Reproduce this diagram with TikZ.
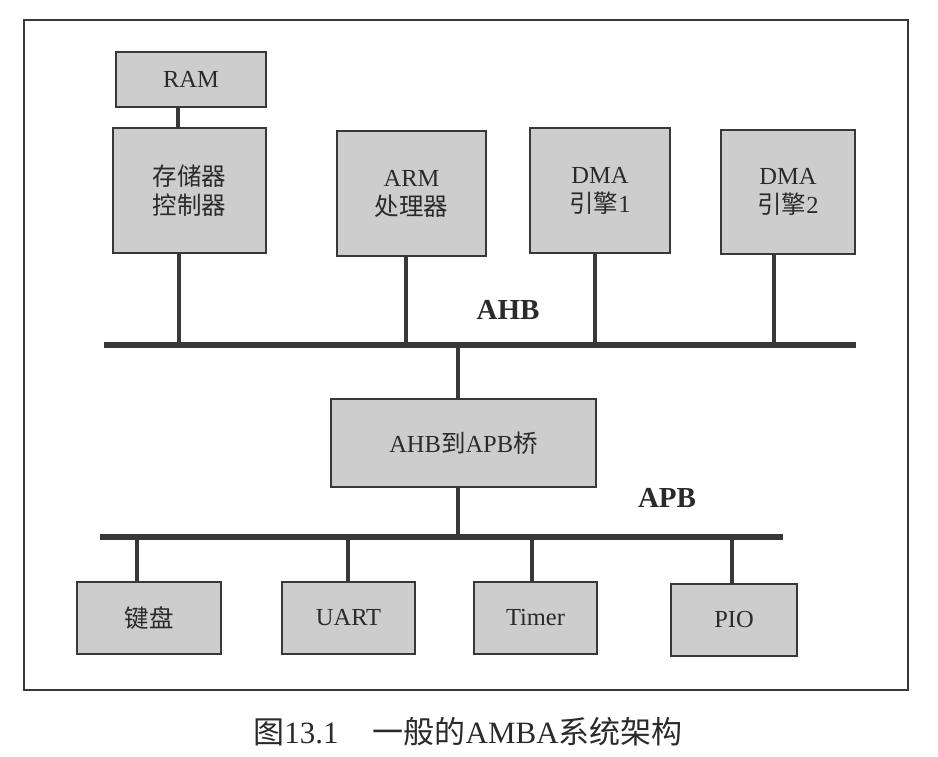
\documentclass[tikz,border=0pt]{standalone}
\usepackage{fontspec}
\setmainfont{Liberation Serif}
\newfontfamily\cjk{Noto Sans CJK SC}
\definecolor{ink}{HTML}{383838}
\definecolor{boxfill}{HTML}{CDCDCD}
\definecolor{txt}{HTML}{2A2A2A}
\begin{document}
\begin{tikzpicture}[x=1pt,y=-1pt,
  blk/.style={draw=ink, fill=boxfill, line width=2.4pt, inner sep=0pt, align=center,
    font=\fontsize{24.5}{29}\selectfont, text=txt},
  link/.style={draw=ink, line width=4.8pt},
  bus/.style={draw=ink, line width=6pt},
  frame/.style={draw=ink, line width=2.8pt},
  buslabel/.style={font=\fontsize{29}{32}\selectfont\bfseries, text=txt},
  caption/.style={font=\fontsize{31}{34}\selectfont, text=txt}]
\useasboundingbox (0,0) rectangle (938,757);
% outer frame
\draw[frame] (24,20) rectangle (908,690);
% buses
\coordinate (ahbL) at (104,345);
\coordinate (ahbR) at (856,345);
\coordinate (apbL) at (100,537);
\coordinate (apbR) at (783,537);
\draw[bus] (ahbL) -- (ahbR);
\draw[bus] (apbL) -- (apbR);
% tap points
\coordinate (tmem) at (179,345);
\coordinate (tarm) at (406,345);
\coordinate (tdma1) at (595,345);
\coordinate (tdma2) at (774,345);
\coordinate (tbrA) at (458,345);
\coordinate (tbrP) at (458,537);
\coordinate (tkb) at (137,537);
\coordinate (tuart) at (348,537);
\coordinate (ttim) at (532,537);
\coordinate (tpio) at (732,537);
\coordinate (tram) at (178,100);
% blocks
\node[blk, minimum width=150pt, minimum height=55pt] (ram) at (191,79.5) {RAM};
\node[blk, minimum width=153pt, minimum height=125pt] (mem) at (189.5,190.5) {{\cjk 存储器}\\{\cjk 控制器}};
\node[blk, minimum width=149pt, minimum height=125pt] (arm) at (411.5,193.5) {ARM\\{\cjk 处理器}};
\node[blk, minimum width=140pt, minimum height=125pt] (dma1) at (600,190.5) {DMA\\{\cjk 引擎}1};
\node[blk, minimum width=134pt, minimum height=124pt] (dma2) at (788,192) {DMA\\{\cjk 引擎}2};
\node[blk, minimum width=265pt, minimum height=88pt] (br) at (463.5,443) {AHB{\cjk 到}APB{\cjk 桥}};
\node[blk, minimum width=144pt, minimum height=72pt] (kb) at (149,618) {{\cjk 键盘}};
\node[blk, minimum width=133pt, minimum height=72pt] (uart) at (348.5,618) {UART};
\node[blk, minimum width=123pt, minimum height=72pt] (tim) at (535.5,618) {Timer};
\node[blk, minimum width=126pt, minimum height=72pt] (pio) at (734,620) {PIO};
% links
\draw[link] (ram.south -| tram) -- (mem.north -| tram);
\draw[link] (mem.south -| tmem) -- (tmem);
\draw[link] (arm.south -| tarm) -- (tarm);
\draw[link] (dma1.south -| tdma1) -- (tdma1);
\draw[link] (dma2.south -| tdma2) -- (tdma2);
\draw[link] (tbrA) -- (br.north -| tbrA);
\draw[link] (br.south -| tbrP) -- (tbrP);
\draw[link] (tkb) -- (kb.north -| tkb);
\draw[link] (tuart) -- (uart.north -| tuart);
\draw[link] (ttim) -- (tim.north -| ttim);
\draw[link] (tpio) -- (pio.north -| tpio);
% labels
\node[buslabel] (ahblab) at (508,310) {AHB};
\node[buslabel] (apblab) at (667,498) {APB};
\node[caption] (cap) at (468,732) {{\cjk 图}13.1\hspace{1.1em}{\cjk 一般的}AMBA{\cjk 系统架构}};
\end{tikzpicture}
\end{document}
